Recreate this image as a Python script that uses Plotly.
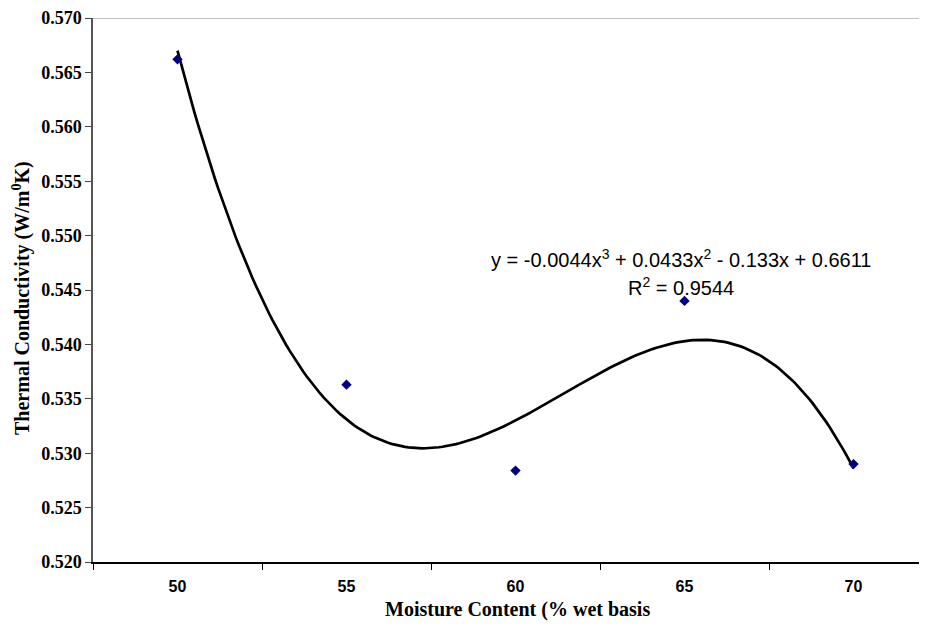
import numpy as np
import plotly.graph_objects as go

# Data
moisture = [50, 55, 60, 65, 70]
conductivity = [0.5662, 0.5363, 0.5284, 0.5440, 0.5290]
tick_labels = ["50", "55", "60", "65", "70"]
y_ticks = [0.520, 0.525, 0.530, 0.535, 0.540, 0.545, 0.550, 0.555, 0.560, 0.565, 0.570]
coef = [-0.0044, 0.0433, -0.133, 0.6611]  # cubic trendline in category index (1..5)
eq_text = "y = -0.0044x<sup>3</sup> + 0.0433x<sup>2</sup> - 0.133x + 0.6611"
r2_text = "R<sup>2</sup> = 0.9544"
x_title = "Moisture Content (% wet basis"
y_title = "Thermal Conductivity (W/m<sup>0</sup>K)"

# trendline evaluated on a fine grid of the category index
t = np.linspace(1, 5, 200)
trend_y = np.polyval(coef, t)
trend_x = moisture[0] + (t - 1) * (moisture[1] - moisture[0])

fig = go.Figure()
fig.add_trace(go.Scatter(x=trend_x, y=trend_y, mode="lines",
                         line=dict(color="black", width=2.7), hoverinfo="skip"))
fig.add_trace(go.Scatter(x=moisture, y=conductivity, mode="markers",
                         marker=dict(symbol="diamond", color="#000080", size=8)))

OFF = 8  # page body margin
W, H = 927 - 2 * OFF, 630 - 2 * OFF
left, top, bottom = 93 - OFF, 18 - OFF, 630 - OFF - 562
plot_w = W - left
plot_h = H - top - bottom
cat_w = 169.0
step = moisture[1] - moisture[0]
x0 = moisture[0] - step / 2
x1 = x0 + plot_w / cat_w * step


def px(xpage):
    return (xpage - OFF - left) / plot_w


def py(ypage):
    return 1 - (ypage - OFF - top) / plot_h


fig.update_layout(
    width=W, height=H,
    margin=dict(l=left, r=0, t=top, b=bottom, pad=0),
    plot_bgcolor="white", paper_bgcolor="white",
    showlegend=False,
    xaxis=dict(
        range=[x0, x1], tickvals=moisture, ticktext=tick_labels, ticks="",
        tickfont=dict(family="Liberation Sans", size=16, color="black", weight="bold"),
        showgrid=False, zeroline=False, showline=True, linecolor="black", linewidth=1.5,
        minor=dict(tick0=x0, dtick=step, ticks="outside", ticklen=6, tickcolor="black",
                   tickwidth=1, showgrid=False),
        ticklabelstandoff=9,
    ),
    yaxis=dict(
        range=[0.520, 0.570], tickvals=y_ticks, ticktext=[f"{v:.3f}" for v in y_ticks],
        ticks="outside", ticklen=6, tickcolor="#444", tickwidth=1,
        tickfont=dict(family="Liberation Serif", size=18, color="black", weight="bold"),
        showgrid=False, zeroline=False, showline=True, linecolor="#555", linewidth=1.5,
    ),
)

fig.add_shape(type="line", xref="paper", yref="y", x0=0, x1=1, y0=0.570, y1=0.570,
              line=dict(color="#808080", width=1))

fig.add_annotation(text=y_title, xref="paper", yref="paper", textangle=-90,
                   x=px(21), y=py(298), showarrow=False, xanchor="center", yanchor="middle",
                   font=dict(family="Liberation Serif", size=20, color="black", weight="bold"))
fig.add_annotation(text=x_title, xref="paper", yref="paper",
                   x=px(517), y=py(609), showarrow=False, xanchor="center", yanchor="middle",
                   font=dict(family="Liberation Serif", size=20, color="black", weight="bold"))
fig.add_annotation(text=eq_text, xref="paper", yref="paper",
                   x=px(489), y=py(258), showarrow=False, xanchor="left", yanchor="middle",
                   font=dict(family="Liberation Sans", size=20, color="black"))
fig.add_annotation(text=r2_text, xref="paper", yref="paper",
                   x=px(681), y=py(286), showarrow=False, xanchor="center", yanchor="middle",
                   font=dict(family="Liberation Sans", size=20, color="black"))

fig.write_html("out.html")
